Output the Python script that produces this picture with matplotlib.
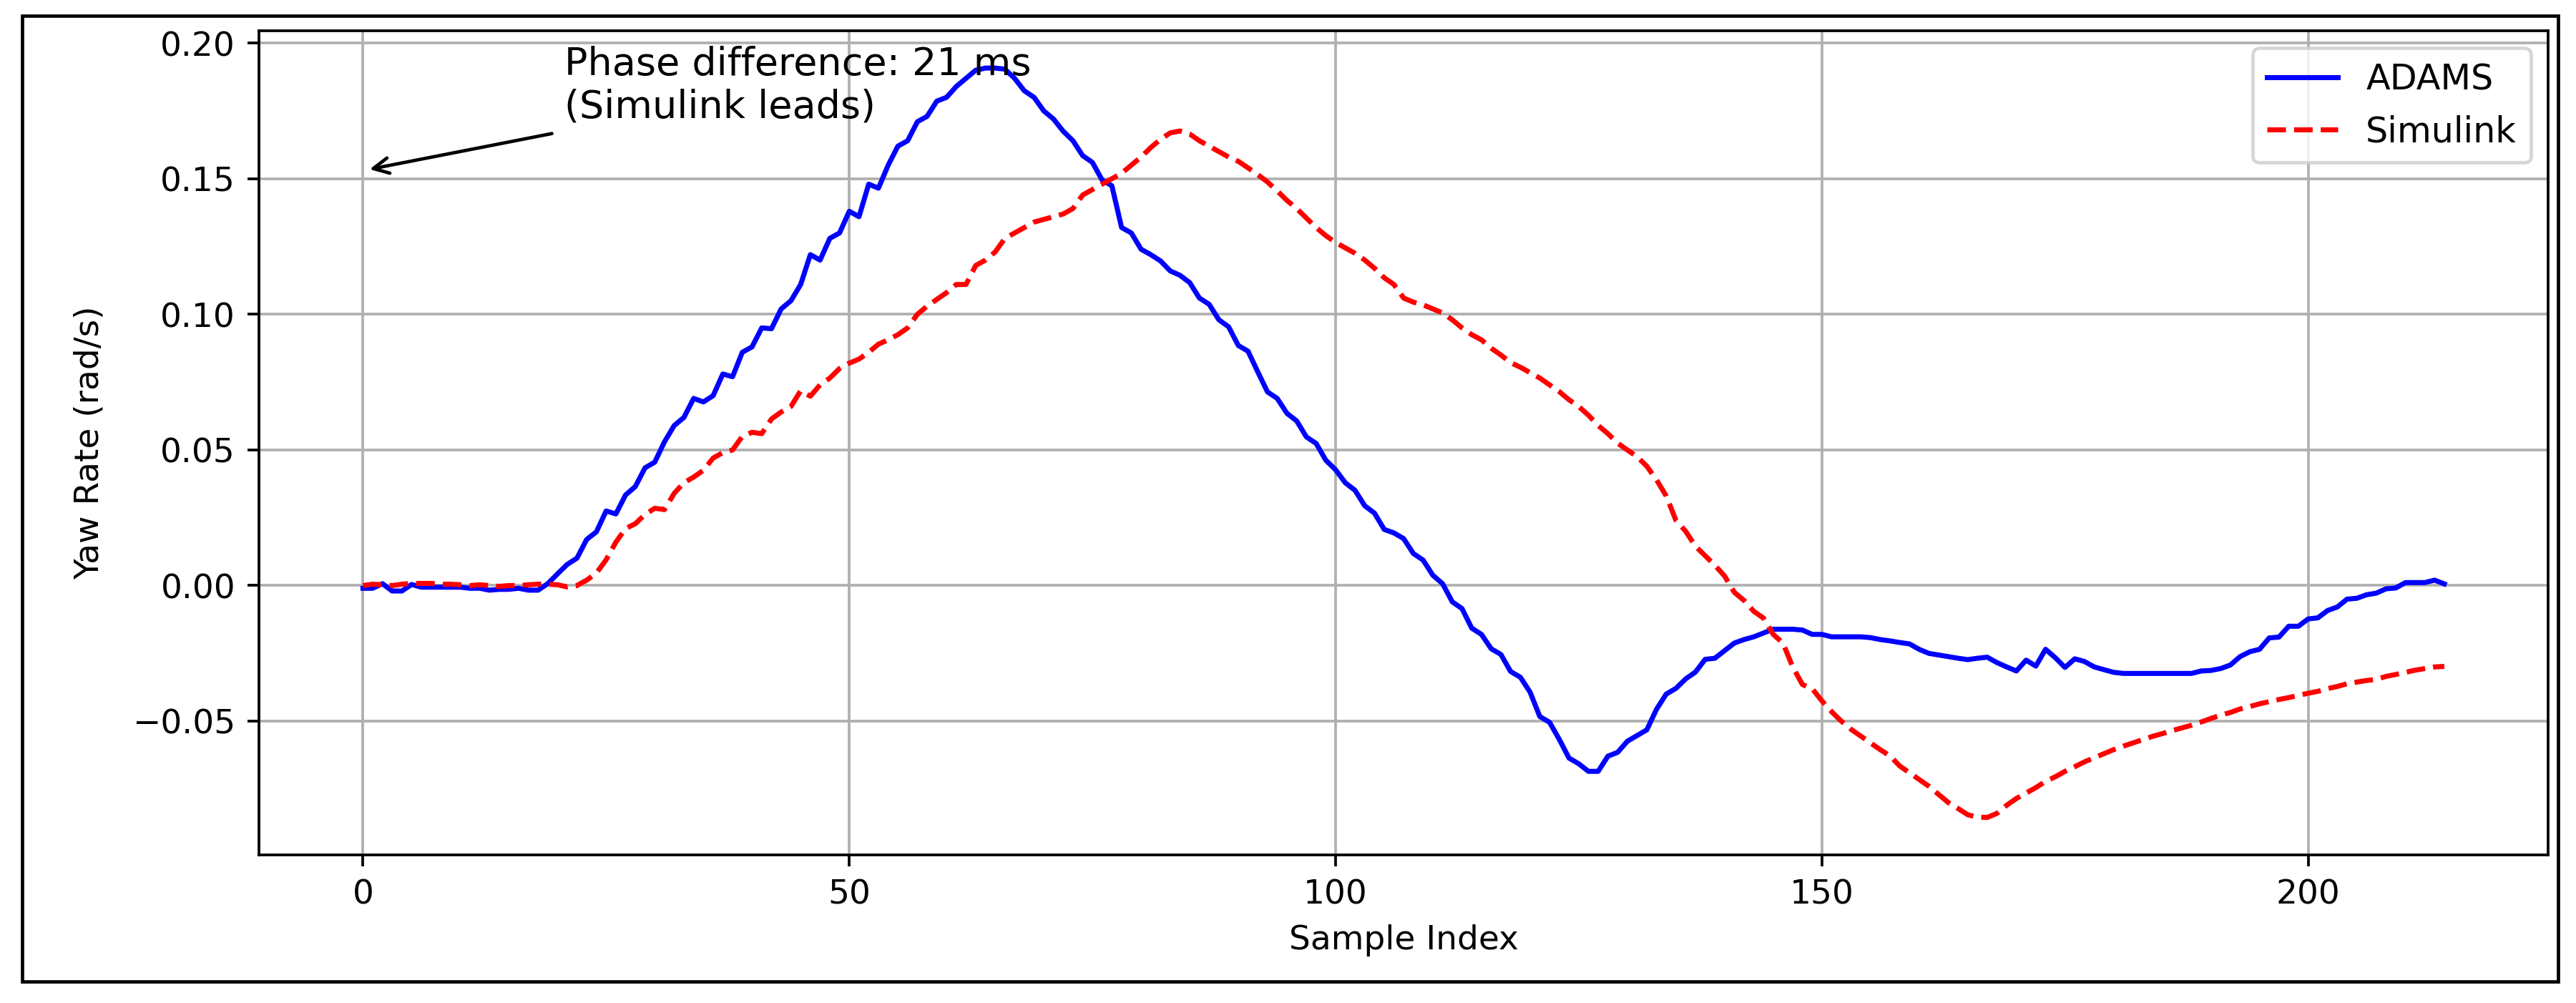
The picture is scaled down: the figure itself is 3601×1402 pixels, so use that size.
import numpy as np
import matplotlib
matplotlib.use('Agg')
import matplotlib.pyplot as plt
from matplotlib.patches import Rectangle

# ── Datos ──
adams = [
    -0.0010, -0.0010, 0.0007, -0.0020, -0.0020, 0.0004, -0.0006, -0.0006, -0.0006, -0.0006,
    -0.0006, -0.0010, -0.0010, -0.0017, -0.0014, -0.0014, -0.0010, -0.0017, -0.0017, 0.0007,
    0.0043, 0.0078, 0.0101, 0.0170, 0.0198, 0.0275, 0.0264, 0.0334, 0.0365, 0.0434,
    0.0455, 0.0530, 0.0590, 0.0620, 0.0690, 0.0677, 0.0700, 0.0780, 0.0770, 0.0860,
    0.0880, 0.0950, 0.0947, 0.1020, 0.1050, 0.1110, 0.1220, 0.1200, 0.1280, 0.1300,
    0.1380, 0.1360, 0.1480, 0.1465, 0.1550, 0.1620, 0.1640, 0.1710, 0.1730, 0.1786,
    0.1800, 0.1840, 0.1870, 0.1900, 0.1908, 0.1908, 0.1904, 0.1870, 0.1824, 0.1800,
    0.1750, 0.1720, 0.1675, 0.1640, 0.1585, 0.1560, 0.1495, 0.1474, 0.1320, 0.1300,
    0.1240, 0.1220, 0.1197, 0.1160, 0.1144, 0.1117, 0.1060, 0.1037, 0.0980, 0.0954,
    0.0885, 0.0864, 0.0788, 0.0714, 0.0690, 0.0635, 0.0607, 0.0548, 0.0524, 0.0462,
    0.0427, 0.0379, 0.0351, 0.0294, 0.0267, 0.0207, 0.0194, 0.0173, 0.0118, 0.0094,
    0.0038, 0.0007, -0.0060, -0.0085, -0.0157, -0.0180, -0.0233, -0.0254, -0.0317, -0.0338,
    -0.0393, -0.0483, -0.0504, -0.0567, -0.0636, -0.0657, -0.0685, -0.0685, -0.0629, -0.0615,
    -0.0574, -0.0553, -0.0532, -0.0456, -0.0400, -0.0379, -0.0344, -0.0319, -0.0272, -0.0268,
    -0.0240, -0.0212, -0.0199, -0.0189, -0.0175, -0.0161, -0.0161, -0.0161, -0.0164, -0.0180,
    -0.0180, -0.0189, -0.0189, -0.0189, -0.0189, -0.0192, -0.0199, -0.0204, -0.0210, -0.0215,
    -0.0235, -0.0250, -0.0256, -0.0262, -0.0268, -0.0273, -0.0268, -0.0264, -0.0284, -0.0300,
    -0.0315, -0.0275, -0.0297, -0.0235, -0.0266, -0.0302, -0.0270, -0.0280, -0.0300, -0.0310,
    -0.0320, -0.0324, -0.0324, -0.0324, -0.0324, -0.0324, -0.0324, -0.0324, -0.0324, -0.0315,
    -0.0313, -0.0306, -0.0293, -0.0262, -0.0244, -0.0235, -0.0193, -0.0190, -0.0150, -0.0150,
    -0.0123, -0.0119, -0.0092, -0.0079, -0.0050, -0.0047, -0.0034, -0.0028, -0.0012, -0.0009,
    0.0011, 0.0011, 0.0011, 0.0020, 0.0006,
]

simulink = [
    0.0000, 0.0005, 0.0003, 0.0000, 0.0005, 0.0008, 0.0008, 0.0008, 0.0005, 0.0005,
    0.0003, 0.0000, 0.0003, 0.0000, -0.0003, 0.0000, 0.0000, 0.0003, 0.0005, 0.0005,
    0.0003, -0.0005, 0.0000, 0.0020, 0.0046, 0.0095, 0.0160, 0.0210, 0.0228, 0.0262,
    0.0285, 0.0280, 0.0340, 0.0379, 0.0400, 0.0425, 0.0470, 0.0490, 0.0500, 0.0550,
    0.0565, 0.0560, 0.0614, 0.0640, 0.0660, 0.0718, 0.0698, 0.0740, 0.0765, 0.0800,
    0.0820, 0.0835, 0.0860, 0.0890, 0.0906, 0.0925, 0.0950, 0.1000, 0.1030, 0.1055,
    0.1080, 0.1110, 0.1110, 0.1180, 0.1200, 0.1230, 0.1280, 0.1300, 0.1320, 0.1340,
    0.1350, 0.1360, 0.1370, 0.1390, 0.1440, 0.1460, 0.1480, 0.1500, 0.1520, 0.1550,
    0.1580, 0.1615, 0.1645, 0.1669, 0.1676, 0.1665, 0.1640, 0.1620, 0.1600, 0.1580,
    0.1564, 0.1540, 0.1515, 0.1488, 0.1455, 0.1420, 0.1390, 0.1355, 0.1320, 0.1290,
    0.1265, 0.1245, 0.1225, 0.1200, 0.1170, 0.1135, 0.1110, 0.1060, 0.1045, 0.1035,
    0.1020, 0.1005, 0.0980, 0.0950, 0.0925, 0.0906, 0.0875, 0.0850, 0.0822, 0.0805,
    0.0785, 0.0765, 0.0740, 0.0715, 0.0685, 0.0660, 0.0628, 0.0590, 0.0560, 0.0525,
    0.0500, 0.0475, 0.0440, 0.0390, 0.0330, 0.0240, 0.0200, 0.0145, 0.0110, 0.0075,
    0.0035, -0.0025, -0.0055, -0.0095, -0.0120, -0.0180, -0.0212, -0.0300, -0.0365, -0.0380,
    -0.0425, -0.0465, -0.0500, -0.0530, -0.0555, -0.0580, -0.0605, -0.0628, -0.0665, -0.0690,
    -0.0715, -0.0740, -0.0770, -0.0800, -0.0822, -0.0845, -0.0854, -0.0855, -0.0840, -0.0810,
    -0.0785, -0.0765, -0.0745, -0.0722, -0.0705, -0.0685, -0.0668, -0.0650, -0.0635, -0.0620,
    -0.0605, -0.0592, -0.0580, -0.0568, -0.0556, -0.0546, -0.0535, -0.0525, -0.0515, -0.0503,
    -0.0490, -0.0478, -0.0468, -0.0455, -0.0446, -0.0436, -0.0428, -0.0420, -0.0413, -0.0405,
    -0.0397, -0.0390, -0.0380, -0.0372, -0.0362, -0.0356, -0.0350, -0.0346, -0.0335, -0.0328,
    -0.0320, -0.0312, -0.0306, -0.0300, -0.0298,
]

phase_ms = 21
idx = np.arange(len(adams))

# ── Figura ──
DPI = 338
fig = plt.figure(figsize=(3601.3 / DPI, 1402.3 / DPI), dpi=DPI)
ax = fig.add_axes([0.1005, 0.1476, 0.8887, 0.8217])

ax.plot(idx, adams, 'b-', linewidth=1.5, label='ADAMS')
ax.plot(idx, simulink, 'r--', linewidth=1.5, label='Simulink')
ax.annotate(f'Phase difference: {phase_ms} ms\n(Simulink leads)',
            xy=(0, 0.153), xytext=(20.7, 0.1725), fontsize=11.5,
            arrowprops=dict(arrowstyle='->', color='black'))
ax.set_xlabel('Sample Index')
ax.set_ylabel('Yaw Rate (rad/s)', labelpad=8)
ax.legend(loc='upper right', fontsize=10.5)
ax.grid(True)

# marco exterior de la captura
fig.patches.append(Rectangle((31 / 3601, 1 - 1372 / 1402), (3576 - 31) / 3601, (1372 - 22) / 1402,
                             transform=fig.transFigure, fill=False, edgecolor='black', linewidth=1.0))

plt.savefig('out.png', dpi=DPI)
print("[OK] out.png")
